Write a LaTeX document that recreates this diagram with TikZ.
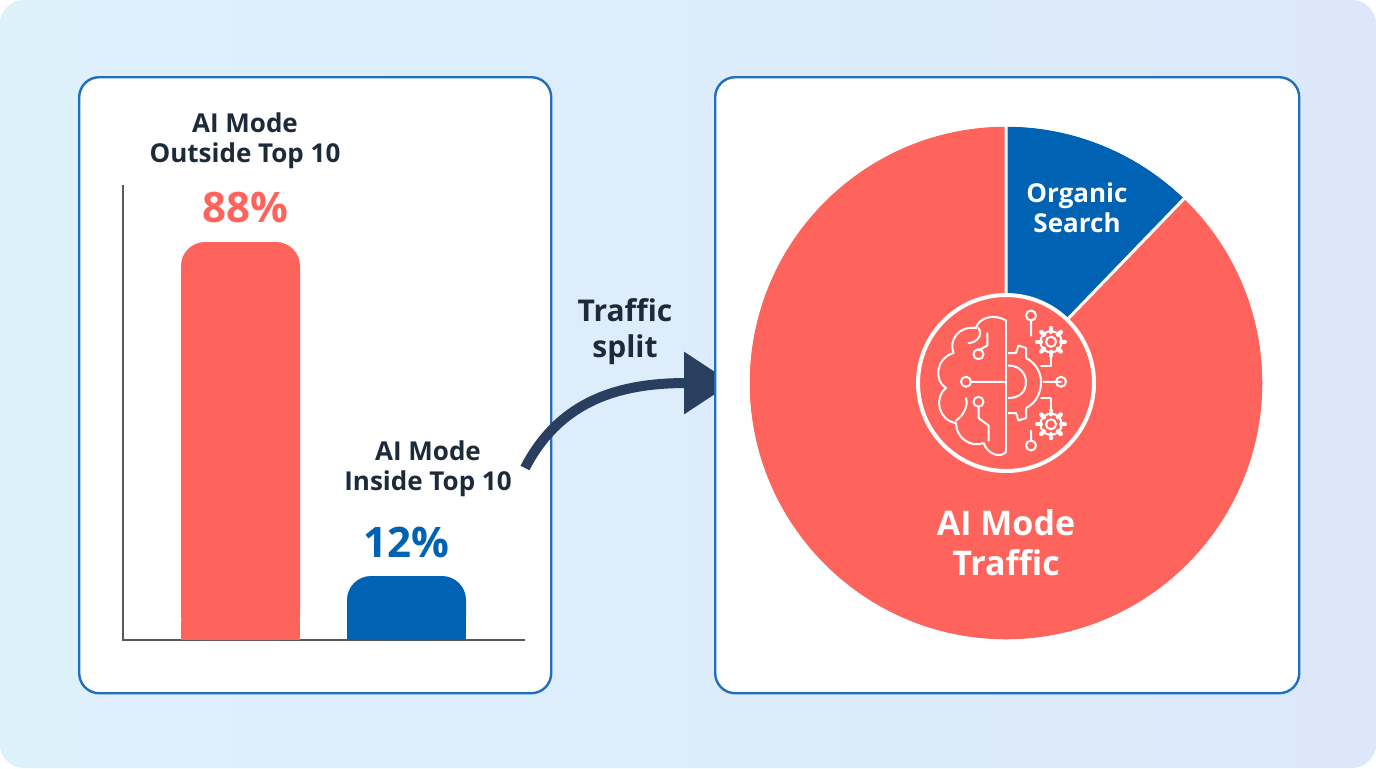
\documentclass[tikz,border=0pt]{standalone}
\usepackage{fontspec}
\setmainfont{Open Sans}
\usetikzlibrary{arrows.meta}
\definecolor{cred}{HTML}{FF645C}
\definecolor{cblue}{HTML}{0062B3}
\definecolor{cframe}{HTML}{1F6FC0}
\definecolor{ctext}{HTML}{1C2A3A}
\definecolor{bgA}{HTML}{DDF1FB}
\definecolor{bgB}{HTML}{DCE8FA}
\definecolor{navy}{HTML}{2A3F5F}
\begin{document}
\begin{tikzpicture}[x=0.5pt,y=-0.5pt,
 panel/.style={draw=cframe,line width=1.2pt,fill=white,rounded corners=10pt},
 lab/.style={font=\bfseries\fontsize{13}{15}\selectfont,text=ctext,align=center},
 big/.style={font=\bfseries\fontsize{21}{23}\selectfont},
 ic/.style={draw=white,line width=1pt,line cap=round,line join=round}]
\useasboundingbox (0,0) rectangle (1376,768);
\shade[left color=bgA,right color=bgB,rounded corners=12pt] (0,0) rectangle (1376,768);
% left panel
\node[panel,minimum width=236pt,minimum height=308pt,anchor=north west] (lp) at (78,76) {};
\draw[gray!70!black,line width=0.6pt] (123,185) -- (123,640) -- (525,640);
\fill[cred,rounded corners=12pt] (181,640) -- (181,242) -- (300,242) -- (300,640) -- cycle;
\fill[cblue,rounded corners=12pt] (347,640) -- (347,576) -- (466,576) -- (466,640) -- cycle;
\fill[cred] (181,620) rectangle (300,640);
\fill[cblue] (347,610) rectangle (466,640);
\node[lab] (t1) at (245,141) {AI Mode\\Outside Top 10};
\node[big,text=cred] (p1) at (245,207) {88\%};
\node[lab] (t2) at (428,469) {AI Mode\\Inside Top 10};
\node[big,text=cblue] (p2) at (406,542) {12\%};
% arrow
\node[lab,font=\bfseries\fontsize{15}{18}\selectfont] (ts) at (625,332) {Traffic\\split};
\coordinate (a0) at (525,468);
\coordinate (a1) at (732,383);
\draw[navy,line width=5pt,-{Triangle[length=24pt,width=30pt]}] (a0) .. controls (560,400) and (620,383) .. (a1);
% right panel
\node[panel,minimum width=292pt,minimum height=308pt,anchor=north west] (rp) at (714,76) {};
\coordinate (c) at (1006,383);
\fill[cred,draw=white,line width=1.5pt] (c) circle (258);
\fill[cblue,draw=white,line width=1.5pt] (c) -- ++(-90:258) arc[start angle=-90,end angle=-46,radius=258] -- cycle;
\draw[white,line width=1.5pt] (c) circle (258);
\fill[cred,draw=white,line width=2pt] (c) circle (88);
\node[font=\bfseries\fontsize{13}{15}\selectfont,text=white,align=center] (os) at (1077,208) {Organic\\Search};
\node[font=\bfseries\fontsize{17}{20}\selectfont,text=white,align=center] (am) at (1006,543) {AI Mode\\Traffic};
% brain icon
\begin{scope}[shift={(1006,383)},scale=1.25]
 \draw[ic] (0,-50) -- (0,55);
 \draw[ic] (0,-50) .. controls (-10,-56) and (-22,-52) .. (-24,-44) .. controls (-38,-46) and (-46,-34) .. (-42,-24)
   .. controls (-56,-20) and (-58,-2) .. (-48,4) .. controls (-58,12) and (-54,30) .. (-40,32)
   .. controls (-40,44) and (-28,52) .. (-18,48) .. controls (-14,58) and (-4,60) .. (0,55);
 \draw[ic] (-22,-44) .. controls (-18,-38) and (-24,-32) .. (-30,-32);
 \draw[ic] (-40,30) .. controls (-34,26) and (-30,18) .. (-32,12);
 \draw[ic] (-15,-40) -- (-15,-30) -- (-22,-26);
 \draw[ic] (-22,-23) circle (4);
 \draw[ic] (-32,-1) circle (4) (-28,-1) -- (0,-1);
 \draw[ic] (-22,15) circle (4) (-22,19) -- (-22,28) -- (-14,34) -- (-14,46);
 \draw[ic] (2,-24) -- (8,-24) -- (10,-30) -- (16,-28) -- (16,-20) .. controls (24,-16) and (28,-8) .. (28,-1)
   .. controls (28,8) and (24,16) .. (16,20) -- (16,28) -- (10,30) -- (8,24) -- (2,24);
 \draw[ic] (2,-14) .. controls (12,-14) and (16,-6) .. (16,-1) .. controls (16,6) and (12,12) .. (2,12);
 \draw[ic] (30,-1) -- (44,-1) (44,-1) circle (4);
 \draw[ic] (20,-38) -- (20,-50) (20,-54) circle (4);
 \draw[ic] (20,38) -- (20,46) (20,50) circle (4);
 \draw[ic] (28,-14) -- (36,-14) -- (36,-24);
 \draw[ic] (28,12) -- (36,12) -- (36,22);
 \foreach \y in {-33,33}{
  \draw[ic] (36,\y) circle (4);
  \foreach \a in {0,45,...,315}{\draw[ic,line width=2.2pt] (36,\y) ++(\a:8) -- ++(\a:3);}
  \draw[ic] (36,\y) circle (8.5);
 }
\end{scope}
\end{tikzpicture}
\end{document}
